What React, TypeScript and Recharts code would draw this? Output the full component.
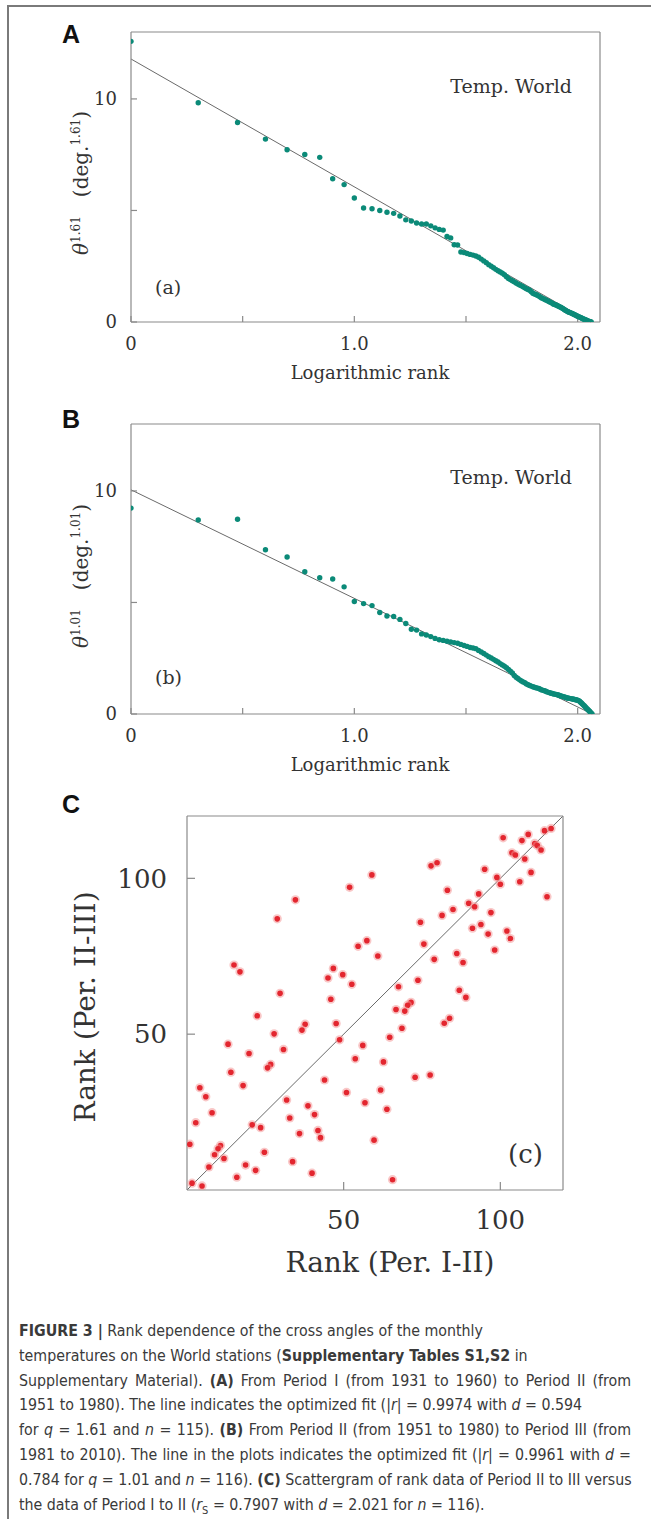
import React from 'react';
import { ScatterChart, Scatter, XAxis, YAxis, ReferenceLine } from 'recharts';

// ---------- Panel A: theta^1.61 vs rank (Period I -> II), n = 115 ----------
const thetaA: number[] = [
  12.58, 9.83, 8.94, 8.2, 7.72, 7.51, 7.38, 6.42, 6.16, 5.56,
  5.11, 5.08, 5.0, 4.92, 4.87, 4.75, 4.58, 4.53, 4.44, 4.39,
  4.39, 4.31, 4.22, 4.15, 4.12, 3.83, 3.77, 3.46, 3.45, 3.14,
  3.11, 3.07, 3.03, 3.0, 2.96, 2.9, 2.82, 2.74, 2.66, 2.57,
  2.5, 2.43, 2.36, 2.3, 2.24, 2.19, 2.12, 2.03, 1.95, 1.9,
  1.85, 1.8, 1.75, 1.7, 1.66, 1.62, 1.58, 1.53, 1.49, 1.46,
  1.42, 1.36, 1.29, 1.26, 1.23, 1.2, 1.16, 1.12, 1.08, 1.05,
  1.02, 0.99, 0.96, 0.93, 0.9, 0.87, 0.84, 0.8, 0.78, 0.76,
  0.74, 0.71, 0.68, 0.66, 0.63, 0.6, 0.56, 0.53, 0.5, 0.47,
  0.45, 0.43, 0.41, 0.39, 0.37, 0.35, 0.33, 0.3, 0.28, 0.26,
  0.24, 0.22, 0.2, 0.18, 0.16, 0.14, 0.12, 0.1, 0.09, 0.07,
  0.05, 0.04, 0.02, 0.01, 0.0,
];
// fit line: value at log-rank 0, log-rank where it reaches 0
const fitA: number[] = [11.79, 2.057];

// ---------- Panel B: theta^1.01 vs rank (Period II -> III), n = 116 ----------
const thetaB: number[] = [
  9.23, 8.7, 8.73, 7.36, 7.04, 6.38, 6.11, 6.05, 5.7, 5.04,
  4.95, 4.86, 4.55, 4.39, 4.37, 4.24, 4.06, 3.8, 3.76, 3.59,
  3.54, 3.47, 3.39, 3.33, 3.3, 3.26, 3.23, 3.2, 3.17, 3.12,
  3.07, 3.03, 2.98, 2.96, 2.93, 2.85, 2.78, 2.71, 2.64, 2.57,
  2.51, 2.45, 2.39, 2.33, 2.26, 2.2, 2.14, 2.07, 2.0, 1.92,
  1.84, 1.73, 1.65, 1.59, 1.53, 1.48, 1.44, 1.4, 1.35, 1.31,
  1.28, 1.25, 1.22, 1.2, 1.18, 1.16, 1.14, 1.11, 1.08, 1.06,
  1.04, 1.02, 0.99, 0.97, 0.95, 0.93, 0.92, 0.9, 0.89, 0.88,
  0.86, 0.85, 0.83, 0.81, 0.8, 0.78, 0.76, 0.75, 0.73, 0.72,
  0.71, 0.7, 0.69, 0.68, 0.67, 0.66, 0.65, 0.64, 0.63, 0.62,
  0.6, 0.57, 0.53, 0.49, 0.45, 0.41, 0.37, 0.33, 0.28, 0.24,
  0.2, 0.16, 0.12, 0.08, 0.04, 0.0,
];
const fitB: number[] = [10.05, 2.065];

// ---------- shared axis ticks for A and B ----------
const logRankTicks: number[] = [0, 0.5, 1, 1.5, 2];
const logRankTickLabels: string[] = ['0', '', '1.0', '', '2.0'];
const logRankMax = 2.1;
const thetaTicks: number[] = [0, 5, 10];
const thetaTickLabels: string[] = ['0', '', '10'];
const thetaMax = 13;

// ---------- Panel C: rank scattergram ----------
const rankPerI_II: number[] = [
  100.9, 108.9, 106.9, 114.1, 116.2, 111.0, 111.8, 113.0, 103.7, 104.8,
  107.8, 106.2, 109.8, 114.9, 77.9, 79.8, 59.0, 51.9, 34.6, 28.8,
  95.0, 98.9, 100.0, 83.1, 93.1, 89.9, 91.8, 84.9, 81.4, 97.0,
  74.5, 91.1, 93.8, 96.1, 102.1, 103.2, 98.2, 75.6, 78.9, 86.1,
  88.1, 57.4, 54.6, 60.9, 73.7, 67.5, 86.9, 89.0, 71.5, 70.4,
  66.7, 69.5, 82.1, 83.8, 68.6, 64.7, 46.7, 49.7, 45.0, 52.6,
  45.9, 47.6, 48.7, 56.1, 53.7, 62.7, 72.8, 77.6, 61.8, 50.9,
  56.8, 63.8, 59.7, 65.6, 43.9, 37.7, 36.7, 27.8, 29.7, 22.4,
  30.8, 26.7, 25.7, 19.8, 15.0, 16.9, 13.1, 14.0, 17.9, 4.1,
  6.0, 8.0, 2.8, 0.9, 20.8, 23.5, 31.8, 32.8, 38.6, 40.7,
  35.9, 41.8, 42.6, 10.7, 9.9, 8.8, 11.8, 7.0, 18.7, 21.9,
  24.7, 33.7, 15.9, 39.9, 1.6, 4.8,
];
const rankPerII_III: number[] = [
  113.0, 114.1, 112.1, 115.3, 116.0, 111.2, 110.5, 109.1, 108.2, 107.5,
  106.2, 98.9, 101.9, 94.1, 104.0, 105.0, 101.1, 97.1, 93.1, 87.0,
  102.9, 100.3, 98.1, 96.2, 95.0, 92.0, 90.9, 90.0, 88.1, 89.0,
  85.9, 84.0, 85.2, 82.1, 83.1, 80.7, 77.0, 78.9, 74.0, 75.9,
  73.0, 80.0, 78.2, 75.1, 67.3, 65.2, 64.1, 61.8, 60.2, 59.3,
  57.9, 57.4, 53.5, 55.1, 51.9, 49.0, 71.1, 69.1, 68.0, 66.0,
  61.2, 53.4, 48.2, 46.4, 42.1, 41.1, 36.2, 36.9, 32.1, 31.3,
  28.0, 25.9, 16.0, 3.3, 35.3, 53.2, 51.3, 50.1, 63.1, 55.9,
  45.1, 40.3, 39.2, 43.8, 72.2, 70.0, 46.8, 37.8, 33.5, 32.8,
  29.9, 24.8, 21.6, 14.7, 20.9, 20.0, 28.9, 23.1, 27.0, 24.2,
  18.1, 19.1, 16.8, 14.3, 13.2, 11.3, 10.1, 7.4, 8.0, 6.3,
  12.1, 9.1, 4.1, 5.4, 2.2, 1.3,
];
const rankTicks: number[] = [50, 100];
const rankMax = 120;

// ---------- styles ----------
const SERIF = "'DejaVu Serif', 'Liberation Serif', serif";
const BOX = { stroke: '#8a8a8a', strokeWidth: 1.2 };
const TEXT = '#333333';
const TEAL = '#0b8a78';

const TealDot = (p: any) => <circle cx={p.cx} cy={p.cy} r={2.7} fill={TEAL} />;
const RedDot = (p: any) => (
  <g>
    <circle cx={p.cx} cy={p.cy} r={4.6} fill="#f49090" fillOpacity={0.5} />
    <circle cx={p.cx} cy={p.cy} r={2.8} fill="#e3262f" />
  </g>
);

function labelFor(values: number[], labels: string[]) {
  return (v: number) => {
    const i = values.findIndex((t) => Math.abs(t - v) <= 1e-6 * Math.max(1, Math.abs(t)));
    return i >= 0 ? labels[i] : '';
  };
}

function LogRankPanel({ top, values, fit }: { top: number; values: number[]; fit: number[] }) {
  const data = values.map((v, i) => ({ rank: i + 1, theta: v }));
  const xTicks = logRankTicks.map((t) => Math.pow(10, t));
  const xDomain = [1, Math.pow(10, logRankMax)];
  const fmtX = labelFor(xTicks, logRankTickLabels);
  const fmtY = labelFor(thetaTicks, thetaTickLabels);
  const tick = { fill: TEXT, fontSize: 18, fontFamily: SERIF };
  return (
    <div style={{ position: 'absolute', left: 0, top, width: 651, height: 380 }}>
      <ScatterChart width={651} height={380} margin={{ top: 31, right: 50, bottom: 28, left: 91 }}>
        <XAxis xAxisId={0} dataKey="rank" type="number" scale="log" domain={xDomain} ticks={xTicks}
          interval={0} allowDataOverflow tickFormatter={fmtX} tickSize={-6} tickMargin={21} height={30}
          axisLine={BOX} tickLine={BOX} tick={tick} />
        <XAxis xAxisId="top" orientation="top" type="number" scale="log" domain={xDomain} ticks={xTicks}
          interval={0} allowDataOverflow tick={false} tickSize={-6} height={1} axisLine={BOX} tickLine={BOX} />
        <YAxis yAxisId={0} dataKey="theta" type="number" domain={[0, thetaMax]} ticks={thetaTicks}
          interval={0} allowDataOverflow tickFormatter={fmtY} tickSize={-6} tickMargin={20} width={40}
          axisLine={BOX} tickLine={BOX} tick={tick} />
        <YAxis yAxisId="right" orientation="right" type="number" domain={[0, thetaMax]} ticks={thetaTicks}
          interval={0} allowDataOverflow tick={false} tickSize={-6} width={1} axisLine={BOX} tickLine={BOX} />
        <ReferenceLine xAxisId={0} yAxisId={0}
          segment={[{ x: 1, y: fit[0] }, { x: Math.pow(10, fit[1]), y: 0 }]}
          stroke="#6a6a6a" strokeWidth={1} ifOverflow="visible" />
        <Scatter xAxisId={0} yAxisId={0} data={data} isAnimationActive={false} shape={TealDot} />
      </ScatterChart>
    </div>
  );
}

function RankScatterPanel({ top }: { top: number }) {
  const data = rankPerI_II.map((x, i) => ({ x, y: rankPerII_III[i] }));
  const tick = { fill: TEXT, fontSize: 26, fontFamily: SERIF };
  return (
    <div style={{ position: 'absolute', left: 0, top, width: 651, height: 460 }}>
      <ScatterChart width={651} height={460} margin={{ top: 35, right: 87, bottom: 10, left: 127 }}>
        <XAxis xAxisId={0} dataKey="x" type="number" domain={[0, rankMax]} ticks={rankTicks} interval={0}
          allowDataOverflow tickSize={-8} tickMargin={29} height={40} axisLine={BOX} tickLine={BOX} tick={tick} />
        <XAxis xAxisId="top" orientation="top" type="number" domain={[0, rankMax]} ticks={rankTicks} interval={0}
          allowDataOverflow tick={false} tickSize={-8} height={1} axisLine={BOX} tickLine={BOX} />
        <YAxis yAxisId={0} dataKey="y" type="number" domain={[0, rankMax]} ticks={rankTicks} interval={0}
          allowDataOverflow tickSize={-8} tickMargin={28} width={60} axisLine={BOX} tickLine={BOX} tick={tick} />
        <YAxis yAxisId="right" orientation="right" type="number" domain={[0, rankMax]} ticks={rankTicks} interval={0}
          allowDataOverflow tick={false} tickSize={-8} width={1} axisLine={BOX} tickLine={BOX} />
        <ReferenceLine xAxisId={0} yAxisId={0} segment={[{ x: 0, y: 0 }, { x: rankMax, y: rankMax }]}
          stroke="#6a6a6a" strokeWidth={1} ifOverflow="visible" />
        <Scatter xAxisId={0} yAxisId={0} data={data} isAnimationActive={false} shape={RedDot} />
      </ScatterChart>
    </div>
  );
}

function ThetaTitle({ x, y, q }: { x: number; y: number; q: string }) {
  return (
    <text transform={`translate(${x},${y}) rotate(-90)`} textAnchor="middle" fontFamily={SERIF}
      fontSize={20} fill={TEXT} style={{ whiteSpace: 'pre' }}>
      <tspan fontStyle="italic">θ</tspan>
      <tspan fontSize={12} dy={-8}>{q}</tspan>
      <tspan dy={8}>{'   (deg.'}</tspan>
      <tspan fontSize={12} dy={-8}>{q}</tspan>
      <tspan dy={8}>)</tspan>
    </text>
  );
}

const CAP_FONT = "'Liberation Sans Narrow', 'Arial Narrow', 'DejaVu Sans Condensed', sans-serif";

const captionLines: { justify: boolean; content: React.ReactNode }[] = [
  { justify: false, content: <><b>FIGURE 3 |</b> Rank dependence of the cross angles of the monthly</> },
  { justify: false, content: <>temperatures on the World stations (<b>Supplementary Tables S1,S2</b> in</> },
  { justify: true, content: <>Supplementary Material). <b>(A)</b> From Period I (from 1931 to 1960) to Period II (from</> },
  { justify: false, content: <>1951 to 1980). The line indicates the optimized fit (|<i>r</i>| = 0.9974 with <i>d</i> = 0.594</> },
  { justify: true, content: <>for <i>q</i> = 1.61 and <i>n</i> = 115). <b>(B)</b> From Period II (from 1951 to 1980) to Period III (from</> },
  { justify: true, content: <>1981 to 2010). The line in the plots indicates the optimized fit (|<i>r</i>| = 0.9961 with <i>d</i> =</> },
  { justify: true, content: <>0.784 for <i>q</i> = 1.01 and <i>n</i> = 116). <b>(C)</b> Scattergram of rank data of Period II to III versus</> },
  { justify: false, content: <>the data of Period I to II (<i>r</i><sub style={{ fontSize: 11 }}>S</sub> = 0.7907 with <i>d</i> = 2.021 for <i>n</i> = 116).</> },
];

export default function App() {
  return (
    <div style={{ position: 'absolute', left: 0, top: 0, width: 651, height: 1519, overflow: 'hidden', background: '#fff' }}>
      <div style={{ position: 'absolute', left: 7, top: 5, width: 644, height: 1514, borderLeft: '2px solid #7a7a7a', borderTop: '2px solid #7a7a7a' }} />
      <LogRankPanel top={0} values={thetaA} fit={fitA} />
      <LogRankPanel top={392} values={thetaB} fit={fitB} />
      <RankScatterPanel top={780} />
      <svg width={651} height={1300} style={{ position: 'absolute', left: 0, top: 0, pointerEvents: 'none' }}>
        {/* Panel A */}
        <text x={62} y={43} fontFamily="'Liberation Sans', Arial, sans-serif" fontWeight="bold" fontSize={25} fill="#111">A</text>
        <text x={572} y={93} textAnchor="end" fontFamily={SERIF} fontSize={19} fill={TEXT}>Temp. World</text>
        <text x={155} y={294} fontFamily={SERIF} fontSize={19} fill={TEXT}>(a)</text>
        <ThetaTitle x={88} y={183} q="1.61" />
        <text x={370} y={379} textAnchor="middle" fontFamily={SERIF} fontSize={18} fill={TEXT}>Logarithmic rank</text>
        {/* Panel B */}
        <text x={62} y={428} fontFamily="'Liberation Sans', Arial, sans-serif" fontWeight="bold" fontSize={25} fill="#111">B</text>
        <text x={572} y={484} textAnchor="end" fontFamily={SERIF} fontSize={19} fill={TEXT}>Temp. World</text>
        <text x={155} y={684} fontFamily={SERIF} fontSize={19} fill={TEXT}>(b)</text>
        <ThetaTitle x={88} y={576} q="1.01" />
        <text x={370} y={771} textAnchor="middle" fontFamily={SERIF} fontSize={18} fill={TEXT}>Logarithmic rank</text>
        {/* Panel C */}
        <text x={62} y={813} fontFamily="'Liberation Sans', Arial, sans-serif" fontWeight="bold" fontSize={25} fill="#111">C</text>
        <text x={508} y={1163} fontFamily={SERIF} fontSize={26} fill={TEXT}>(c)</text>
        <text transform="translate(95,1007) rotate(-90)" textAnchor="middle" fontFamily={SERIF} fontSize={28} fill={TEXT}>Rank (Per. II-III)</text>
        <text x={390} y={1272} textAnchor="middle" fontFamily={SERIF} fontSize={28} fill={TEXT}>Rank (Per. I-II)</text>
      </svg>
      {captionLines.map((ln, i) => (
        <div key={i} style={{
          position: 'absolute', left: 19, top: 1323 + i * 24.8, width: 612,
          fontFamily: CAP_FONT, fontSize: 15.8, lineHeight: '16px', color: '#3a3a3a',
          whiteSpace: 'nowrap', textAlign: ln.justify ? 'justify' : 'left',
          textAlignLast: ln.justify ? 'justify' : 'left',
        } as React.CSSProperties}>{ln.content}</div>
      ))}
    </div>
  );
}
